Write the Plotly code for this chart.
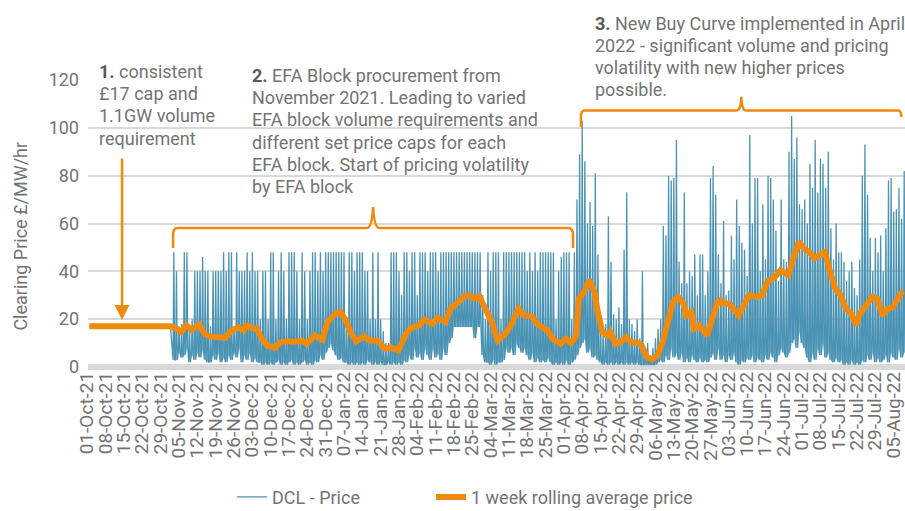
import plotly.graph_objects as go
import pandas as pd

# ---------------- data ----------------
# Period 1: flat £17 cap (Oct 2021)
cap_period_dates = ["2021-10-01", "2021-11-01"]
cap_period_price = [17, 17]

# Period 2/3: daily high and low of the DCL EFA-block clearing price, from 2 Nov 2021
dcl_start = "2021-11-02"
dcl_daily_high = [
    48, 40, 17, 18, 48, 48, 17,
    20, 40, 40, 40, 46, 40, 40,
    17, 40, 40, 40, 40, 48, 40,
    48, 48, 17, 48, 40, 40, 40,
    48, 40, 48, 40, 40, 20, 40,
    40, 20, 48, 48, 20, 40, 48,
    40, 20, 48, 48, 48, 40, 20,
    48, 40, 20, 40, 48, 48, 40,
    48, 40, 48, 48, 48, 48, 48,
    48, 48, 48, 20, 48, 48, 40,
    48, 48, 48, 40, 40, 20, 48,
    20, 48, 20, 15, 10, 10, 48,
    48, 48, 40, 30, 48, 48, 40,
    48, 48, 30, 48, 48, 48, 40,
    48, 48, 48, 40, 48, 48, 48,
    48, 48, 48, 48, 48, 48, 48,
    48, 48, 48, 48, 48, 48, 30,
    20, 48, 40, 48, 48, 48, 20,
    48, 48, 48, 48, 48, 48, 48,
    48, 48, 40, 48, 40, 48, 40,
    48, 48, 48, 48, 48, 48, 20,
    40, 46, 48, 48, 48, 20, 48,
    70, 89, 103, 86, 60, 69, 59,
    81, 47, 20, 16, 18, 63, 44,
    22, 20, 25, 18, 49, 73, 20,
    18, 15, 20, 12, 40, 8, 10,
    5, 8, 12, 16, 20, 59, 55,
    80, 78, 79, 95, 44, 35, 73,
    35, 40, 38, 47, 30, 47, 47,
    30, 40, 79, 84, 72, 47, 35,
    61, 30, 32, 55, 45, 70, 59,
    52, 49, 38, 97, 60, 79, 79,
    40, 68, 45, 80, 79, 70, 57,
    36, 70, 45, 44, 90, 105, 87,
    96, 68, 66, 70, 60, 85, 75,
    95, 73, 87, 85, 75, 90, 58,
    45, 60, 48, 48, 44, 36, 40,
    44, 33, 30, 45, 80, 93, 72,
    54, 40, 54, 48, 55, 40, 58,
    78, 79, 65, 66, 75, 62, 82,
]
dcl_daily_low = [
    3, 3, 6, 4, 5, 8, 2,
    5, 3, 6, 4, 7, 3, 2,
    2, 5, 3, 6, 2, 4, 2,
    5, 3, 6, 4, 8, 2, 5,
    3, 6, 2, 4, 2, 2, 1,
    2, 1, 2, 1, 2, 3, 1,
    2, 1, 2, 3, 1, 2, 1,
    2, 3, 1, 2, 1, 3, 2,
    5, 3, 6, 8, 10, 7, 5,
    3, 4, 2, 2, 1, 2, 1,
    2, 1, 2, 1, 3, 2, 1,
    2, 1, 2, 1, 1, 2, 1,
    2, 1, 2, 1, 3, 2, 5,
    3, 8, 4, 6, 3, 8, 5,
    3, 8, 4, 6, 3, 8, 5,
    10, 12, 17, 17, 17, 17, 17,
    17, 17, 17, 12, 17, 17, 5,
    2, 2, 1, 3, 1, 2, 2,
    3, 8, 6, 8, 5, 10, 8,
    6, 8, 5, 3, 6, 2, 4,
    2, 3, 2, 4, 2, 1, 2,
    1, 2, 1, 3, 1, 2, 3,
    5, 8, 10, 12, 6, 8, 4,
    5, 3, 2, 1, 2, 1, 2,
    1, 2, 1, 2, 1, 2, 1,
    2, 1, 2, 1, 1, 1, 1,
    1, 1, 1, 2, 3, 2, 5,
    3, 8, 4, 6, 3, 6, 2,
    4, 2, 5, 3, 2, 4, 2,
    3, 2, 4, 6, 3, 8, 3,
    5, 2, 5, 3, 6, 2, 1,
    3, 2, 4, 3, 5, 2, 4,
    3, 2, 5, 3, 6, 4, 2,
    5, 8, 6, 4, 6, 10, 12,
    8, 15, 10, 8, 4, 2, 6,
    3, 8, 5, 10, 4, 6, 3,
    2, 4, 2, 3, 1, 2, 1,
    3, 1, 2, 1, 3, 2, 5,
    3, 6, 2, 4, 2, 3, 5,
    2, 6, 4, 3, 8, 4, 6,
]

# 1 week rolling average price
rolling_dates = [
    "2021-10-01", "2021-11-01", "2021-11-03", "2021-11-05", "2021-11-07", "2021-11-09",
    "2021-11-12", "2021-11-14", "2021-11-16", "2021-11-19", "2021-11-22", "2021-11-24",
    "2021-11-27", "2021-11-29", "2021-11-30", "2021-12-02", "2021-12-04", "2021-12-06",
    "2021-12-08", "2021-12-11", "2021-12-13", "2021-12-16", "2021-12-18", "2021-12-21",
    "2021-12-23", "2021-12-26", "2021-12-29", "2021-12-31", "2022-01-03", "2022-01-05",
    "2022-01-07", "2022-01-09", "2022-01-11", "2022-01-14", "2022-01-16", "2022-01-19",
    "2022-01-22", "2022-01-24", "2022-01-27", "2022-01-30", "2022-02-01", "2022-02-04",
    "2022-02-06", "2022-02-09", "2022-02-11", "2022-02-14", "2022-02-16", "2022-02-19",
    "2022-02-21", "2022-02-23", "2022-02-25", "2022-02-27", "2022-03-01", "2022-03-04",
    "2022-03-06", "2022-03-09", "2022-03-11", "2022-03-14", "2022-03-16", "2022-03-19",
    "2022-03-21", "2022-03-23", "2022-03-25", "2022-03-27", "2022-03-30", "2022-04-01",
    "2022-04-03", "2022-04-05", "2022-04-06", "2022-04-08", "2022-04-10", "2022-04-12",
    "2022-04-13", "2022-04-15", "2022-04-17", "2022-04-18", "2022-04-20", "2022-04-22",
    "2022-04-24", "2022-04-26", "2022-04-28", "2022-04-30", "2022-05-02", "2022-05-04",
    "2022-05-06", "2022-05-08", "2022-05-10", "2022-05-12", "2022-05-14", "2022-05-16",
    "2022-05-17", "2022-05-19", "2022-05-20", "2022-05-22", "2022-05-25", "2022-05-27",
    "2022-05-29", "2022-05-30", "2022-05-31", "2022-06-02", "2022-06-03", "2022-06-06",
    "2022-06-08", "2022-06-10", "2022-06-13", "2022-06-15", "2022-06-17", "2022-06-20",
    "2022-06-22", "2022-06-25", "2022-06-27", "2022-06-29", "2022-07-01", "2022-07-03",
    "2022-07-05", "2022-07-07", "2022-07-09", "2022-07-11", "2022-07-13", "2022-07-15",
    "2022-07-17", "2022-07-19", "2022-07-21", "2022-07-22", "2022-07-25", "2022-07-27",
    "2022-07-29", "2022-07-31", "2022-08-02", "2022-08-04", "2022-08-07", "2022-08-08",
]
rolling_values = [
    17, 17, 16.3, 14.6, 17.4, 15.6,
    17.8, 13.9, 12.8, 12.8, 12.2, 15.0,
    16.7, 15.3, 17.4, 16.4, 16.0, 11.8,
    9.0, 8.0, 10.4, 10.8, 10.4, 11.1,
    9.7, 13.2, 11.4, 18.8, 22.3, 23.0,
    19.5, 13.9, 10.8, 12.8, 11.1, 11.1,
    7.6, 8.3, 6.9, 13.9, 16.4, 17.4,
    19.8, 18.1, 20.6, 18.8, 24.4, 27.2,
    29.3, 30.0, 28.6, 29.6, 24.4, 18.1,
    11.1, 13.9, 17.4, 24.4, 21.6, 21.2,
    18.1, 17.0, 15.3, 11.8, 9.7, 11.8,
    10.1, 13.2, 28.6, 31.4, 36.3, 31.4,
    24.4, 14.6, 13.2, 14.6, 9.7, 10.4,
    12.5, 10.4, 10.4, 9.0, 4.1, 3.1,
    4.8, 10.4, 18.8, 27.2, 29.3, 26.5,
    21.6, 23.0, 16.0, 17.4, 13.2, 20.2,
    27.2, 27.9, 26.5, 26.5, 25.8, 21.6,
    25.8, 30.0, 29.3, 30.0, 35.6, 37.7,
    40.5, 38.4, 45.4, 52.3, 49.6, 48.1,
    45.4, 46.8, 48.1, 39.7, 32.8, 30.0,
    24.4, 22.3, 17.4, 21.6, 25.8, 29.3,
    28.6, 21.6, 24.4, 25.1, 30.7, 30.0,
]

# Explanatory notes (one entry per printed line)
note1_lines = ["<b style='color:#595959'>1.</b> consistent", "£17 cap and",
               "1.1GW volume", "requirement"]
note2_lines = ["<b style='color:#595959'>2.</b> EFA Block procurement from",
               "November 2021. Leading to varied", "EFA block volume requirements and",
               "different set price caps for each", "EFA block. Start of pricing volatility",
               "by EFA block"]
note3_lines = ["<b style='color:#595959'>3.</b> New Buy Curve implemented in April",
               "2022 - significant volume and pricing", "volatility with new higher prices",
               "possible."]

# ---------------- build the DCL trace ----------------
# each day: low block, one peak block, then back to the low level
days = pd.date_range(dcl_start, periods=len(dcl_daily_high), freq="D")
dcl_x = list(pd.to_datetime(cap_period_dates))
dcl_y = list(cap_period_price)
for day, lo, hi in zip(days, dcl_daily_low, dcl_daily_high):
    dcl_x += [day, day + pd.Timedelta(hours=7), day + pd.Timedelta(hours=14)]
    dcl_y += [lo, hi, lo]

BLUE = "#4a93b4"
ORANGE = "#f08a0c"
GREY_TXT = "#737373"
FONT = "Roboto"

fig = go.Figure()
fig.add_trace(go.Scatter(
    x=dcl_x, y=dcl_y, mode="lines", name="DCL - Price",
    line=dict(color=BLUE, width=1.3), legend="legend",
))
fig.add_trace(go.Scatter(
    x=pd.to_datetime(rolling_dates), y=rolling_values, mode="lines",
    name="1 week rolling average price",
    line=dict(color=ORANGE, width=6), legend="legend2",
))

# ---------------- braces and arrow ----------------
brace2 = ("M2021-11-02,49.8 L2021-11-02,55 Q2021-11-02,58.1 2021-11-03_12:00,58.1 "
          "L2022-01-15,58.1 Q2022-01-17,58.1 2022-01-17_10:00,66.9 "
          "Q2022-01-17_20:00,58.1 2022-01-19_20:00,58.1 "
          "L2022-04-02,58.1 Q2022-04-03_19:00,58.1 2022-04-03_19:00,55 L2022-04-03_19:00,49.8")
brace3 = ("M2022-04-06_19:00,100.5 L2022-04-06_19:00,104.5 Q2022-04-06_19:00,107.2 2022-04-08_06:00,107.2 "
          "L2022-06-05,107.2 Q2022-06-07,107.2 2022-06-07_02:00,113 "
          "Q2022-06-07_04:00,107.2 2022-06-09,107.2 "
          "L2022-08-06,107.2 Q2022-08-07_05:00,107.2 2022-08-07_05:00,104.5")
for p in (brace2, brace3):
    fig.add_shape(type="path", path=p, xref="x", yref="y",
                  line=dict(color=ORANGE, width=2.5), layer="above")

fig.add_annotation(x="2021-10-13 12:00", y=19.6, ax="2021-10-13 12:00", ay=87.8,
                   xref="x", yref="y", axref="x", ayref="y", text="",
                   showarrow=True, arrowhead=2, arrowsize=1.2, arrowwidth=2.5,
                   arrowcolor=ORANGE, standoff=0)

# ---------------- explanatory texts (paper coordinates, one line each) ----------------
PLOT_H = 287.0   # plot-area height in px (t=80, b=144 of 511)
LINE_GAP = 22.2  # px between text lines


def add_note(lines, x_paper, first_line_px):
    for i, line in enumerate(lines):
        y_px = first_line_px + i * LINE_GAP          # centre of the line, from figure top
        fig.add_annotation(
            x=x_paper, y=(367 - y_px) / PLOT_H, xref="paper", yref="paper",
            xanchor="left", yanchor="middle", align="left", showarrow=False,
            text=line, font=dict(family=FONT, size=18, color=GREY_TXT))


add_note(note1_lines, 0.011, 71.5)
add_note(note2_lines, 0.1983, 75.5)
add_note(note3_lines, 0.618, 23.0)

# y-axis title (rotated text, positioned like the original)
fig.add_annotation(
    text="Clearing Price £/MW/hr", textangle=-90, showarrow=False,
    xref="paper", yref="paper", x=-0.083, y=0.455, xanchor="center", yanchor="middle",
    font=dict(family=FONT, size=18, color=GREY_TXT))

legend_common = dict(orientation="h", xref="container", yref="container",
                     xanchor="left", yanchor="middle", bgcolor="rgba(0,0,0,0)",
                     font=dict(family=FONT, size=18, color=GREY_TXT))

fig.update_layout(
    width=905, height=511,
    margin=dict(l=88, r=0, t=80, b=144, autoexpand=False),
    paper_bgcolor="white", plot_bgcolor="white",
    font=dict(family=FONT, color=GREY_TXT),
    showlegend=True,
    legend=dict(x=232 / 905, y=0.027, **legend_common),
    legend2=dict(x=431 / 905, y=0.027, **legend_common),
    xaxis=dict(
        type="date",
        range=["2021-09-30 12:00", "2022-08-08 14:24"],
        tick0="2021-10-01", dtick=7 * 86400000, tickformat="%d-%b-%y",
        tickangle=-90, ticks="", showgrid=False, zeroline=False,
        showline=False, ticklabeloverflow="allow", ticklabelshift=-2,
        tickfont=dict(family=FONT, size=19, color=GREY_TXT),
    ),
    yaxis=dict(
        range=[0, 120], dtick=20, showgrid=True, gridcolor="#d9d9d9", gridwidth=1.5,
        zeroline=True, zerolinecolor="#d9d9d9", zerolinewidth=6,
        ticks="", ticklabelstandoff=8,
        tickfont=dict(family=FONT, size=18, color=GREY_TXT),
    ),
)

# remove the default 8px page margin so the figure fills the 905x511 window exactly
fig.write_html("out.html", config={"displayModeBar": False},
               post_script="document.body.style.margin='0';")
